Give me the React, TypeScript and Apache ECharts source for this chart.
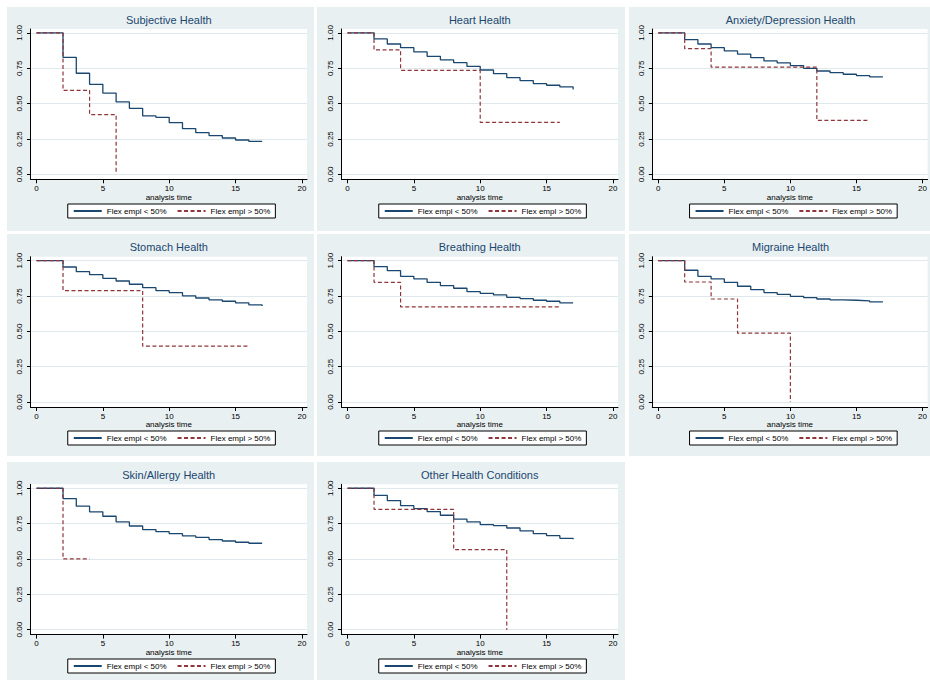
import React, { useEffect, useRef } from "react";
import * as echarts from "echarts";

// ---- data ----
const panelTitles = [
  "Subjective Health",
  "Heart Health",
  "Anxiety/Depression Health",
  "Stomach Health",
  "Breathing Health",
  "Migraine Health",
  "Skin/Allergy Health",
  "Other Health Conditions",
];
const legendLabels = ["Flex empl < 50%", "Flex empl > 50%"];
const xAxisTitle = "analysis time";
const xTicks = [0, 5, 10, 15, 20];
const yTicks = [0, 0.25, 0.5, 0.75, 1];

// analysis times for the "< 50%" group
const timesLow = [0, 1, 2, 3, 4, 5, 6, 7, 8, 9, 10, 11, 12, 13, 14, 15, 16, 17];
const subjectiveLow = [1, 1, 0.828, 0.715, 0.637, 0.575, 0.512, 0.467, 0.413, 0.403, 0.366, 0.323, 0.295, 0.274, 0.257, 0.243, 0.233, 0.229];
const heartLow = [1, 1, 0.958, 0.922, 0.896, 0.866, 0.835, 0.809, 0.79, 0.764, 0.738, 0.712, 0.684, 0.663, 0.642, 0.63, 0.618, 0.6];
const anxietyLow = [1, 1, 0.953, 0.922, 0.896, 0.873, 0.851, 0.825, 0.802, 0.788, 0.769, 0.75, 0.731, 0.719, 0.708, 0.698, 0.689, 0.687];
const stomachLow = [1, 1, 0.955, 0.922, 0.901, 0.875, 0.856, 0.833, 0.809, 0.788, 0.774, 0.751, 0.736, 0.722, 0.713, 0.701, 0.687, 0.68];
const breathingLow = [1, 1, 0.958, 0.929, 0.889, 0.871, 0.847, 0.824, 0.805, 0.781, 0.769, 0.758, 0.741, 0.732, 0.72, 0.713, 0.701, 0.7];
const migraineLow = [1, 1, 0.932, 0.889, 0.871, 0.847, 0.819, 0.795, 0.774, 0.762, 0.748, 0.739, 0.729, 0.722, 0.72, 0.715, 0.708, 0.706];
const skinLow = [1, 1, 0.927, 0.873, 0.833, 0.802, 0.762, 0.733, 0.708, 0.693, 0.679, 0.663, 0.653, 0.637, 0.627, 0.618, 0.611, 0.606];
const otherLow = [1, 1, 0.95, 0.913, 0.877, 0.856, 0.835, 0.809, 0.781, 0.762, 0.743, 0.736, 0.719, 0.698, 0.679, 0.665, 0.646, 0.64];

// "> 50%" group: event times and survival values
const subjectiveHighT = [0, 2, 4, 6];
const subjectiveHighV = [1, 0.594, 0.422, 0];
const heartHighT = [0, 2, 4, 10, 16];
const heartHighV = [1, 0.88, 0.736, 0.368, 0.368];
const anxietyHighT = [0, 2, 4, 12, 16];
const anxietyHighV = [1, 0.889, 0.759, 0.382, 0.382];
const stomachHighT = [0, 2, 8, 16];
const stomachHighV = [1, 0.788, 0.395, 0.395];
const breathingHighT = [0, 2, 4, 16];
const breathingHighV = [1, 0.847, 0.673, 0.673];
const migraineHighT = [0, 2, 4, 6, 10];
const migraineHighV = [1, 0.849, 0.729, 0.487, 0];
const skinHighT = [0, 2, 4];
const skinHighV = [1, 0.5, 0.5];
const otherHighT = [0, 2, 8, 12];
const otherHighV = [1, 0.851, 0.566, 0];

const lowValues = [subjectiveLow, heartLow, anxietyLow, stomachLow, breathingLow, migraineLow, skinLow, otherLow];
const highTimes = [subjectiveHighT, heartHighT, anxietyHighT, stomachHighT, breathingHighT, migraineHighT, skinHighT, otherHighT];
const highValues = [subjectiveHighV, heartHighV, anxietyHighV, stomachHighV, breathingHighV, migraineHighV, skinHighV, otherHighV];

// ---- styling / layout ----
const NAVY = "#1a476f";
const MAROON = "#90353b";
const PANEL_BG = "#e9f0f2";
const GRID_LINE = "#dfe8eb";
const FONT = "'Liberation Sans', Arial, Helvetica, sans-serif";

const colLeft = [7, 317, 629];
const colRight = [314, 625, 930];
const rowTop = [7, 234, 462];
const rowBottom = [231, 456, 680];
const gridLeft = [30.5, 341.5, 652.3];
const yOne = [33, 260.7, 488.3];
const GRID_W = 276.5;
const GRID_H = 150.3;
const X_MIN = -0.45;
const X_MAX = 20.38;
const Y_MIN = -0.035;
const Y_MAX = 1.028;
const LEGEND_W = 202;

function buildOption() {
  const grid: any[] = [];
  const xAxis: any[] = [];
  const yAxis: any[] = [];
  const series: any[] = [];
  const title: any[] = [];
  const legend: any[] = [];
  const graphic: any[] = [];

  panelTitles.forEach((name, i) => {
    const r = Math.floor(i / 3);
    const c = i % 3;
    const gl = gridLeft[c];
    const cx = gl + GRID_W / 2;

    graphic.push({
      type: "rect",
      z: -10,
      silent: true,
      shape: { x: colLeft[c], y: rowTop[r], width: colRight[c] - colLeft[c], height: rowBottom[r] - rowTop[r] },
      style: { fill: PANEL_BG },
    });

    grid.push({
      left: gl,
      top: yOne[r] - 4,
      width: GRID_W,
      height: GRID_H,
      show: true,
      backgroundColor: "#ffffff",
      borderWidth: 0,
      containLabel: false,
    });

    xAxis.push({
      type: "value",
      gridIndex: i,
      min: X_MIN,
      max: X_MAX,
      axisLine: { show: true, onZero: false, lineStyle: { color: "#000", width: 1 } },
      axisTick: { show: true, customValues: xTicks, length: 4, lineStyle: { color: "#000", width: 1 } },
      axisLabel: { show: true, customValues: xTicks, fontSize: 8, color: "#000", margin: 5, fontFamily: FONT },
      splitLine: { show: false },
      name: xAxisTitle,
      nameLocation: "middle",
      nameGap: 13,
      nameTextStyle: { fontSize: 8, color: "#000", fontFamily: FONT },
    });

    yAxis.push({
      type: "value",
      gridIndex: i,
      min: Y_MIN,
      max: Y_MAX,
      axisLine: { show: true, onZero: false, lineStyle: { color: "#000", width: 1 } },
      axisTick: { show: true, customValues: yTicks, length: 3.5, lineStyle: { color: "#000", width: 1 } },
      axisLabel: {
        show: true,
        customValues: yTicks,
        rotate: 90,
        fontSize: 8,
        color: "#000",
        margin: 7,
        fontFamily: FONT,
        formatter: (v: number) => v.toFixed(2),
      },
      splitLine: { show: true, lineStyle: { color: GRID_LINE, width: 1 } },
    });

    title.push({
      text: name,
      left: cx,
      top: rowTop[r] + 7.5,
      textAlign: "center",
      padding: 0,
      textStyle: { fontSize: 11, fontWeight: "normal", color: NAVY, fontFamily: FONT },
    });

    legend.push({
      data: legendLabels,
      left: cx - LEGEND_W / 2,
      top: rowTop[r] + 197,
      orient: "horizontal",
      borderColor: "#000",
      borderWidth: 1,
      padding: [3, 5, 3, 5],
      itemWidth: 28,
      itemHeight: 10,
      itemGap: 10,
      selectedMode: false,
      backgroundColor: "#fff",
      itemStyle: { color: "transparent", borderColor: "transparent", borderWidth: 0, opacity: 0 },
      textStyle: { fontSize: 8, color: "#000", fontFamily: FONT },
    });

    series.push({
      name: legendLabels[0],
      type: "line",
      xAxisIndex: i,
      yAxisIndex: i,
      step: "end",
      symbol: "none",
      showSymbol: false,
      data: timesLow.map((t, k) => [t, lowValues[i][k]]),
      lineStyle: { color: NAVY, width: 1.3, type: "solid" },
      itemStyle: { color: NAVY },
    });
    series.push({
      name: legendLabels[1],
      type: "line",
      xAxisIndex: i,
      yAxisIndex: i,
      step: "end",
      symbol: "none",
      showSymbol: false,
      data: highTimes[i].map((t, k) => [t, highValues[i][k]]),
      lineStyle: { color: MAROON, width: 1.2, type: [4, 2.5] },
      itemStyle: { color: MAROON },
    });
  });

  return {
    animation: false,
    backgroundColor: "#ffffff",
    textStyle: { fontFamily: FONT },
    graphic,
    title,
    legend,
    grid,
    xAxis,
    yAxis,
    series,
  };
}

export default function App() {
  const ref = useRef<HTMLDivElement>(null);
  useEffect(() => {
    if (!ref.current) return;
    const chart = echarts.init(ref.current, undefined, { renderer: "svg" });
    chart.setOption(buildOption() as any);
    return () => chart.dispose();
  }, []);
  return (
    <div
      ref={ref}
      style={{ position: "absolute", left: 0, top: 0, width: 930, height: 680, background: "#fff" }}
    />
  );
}
